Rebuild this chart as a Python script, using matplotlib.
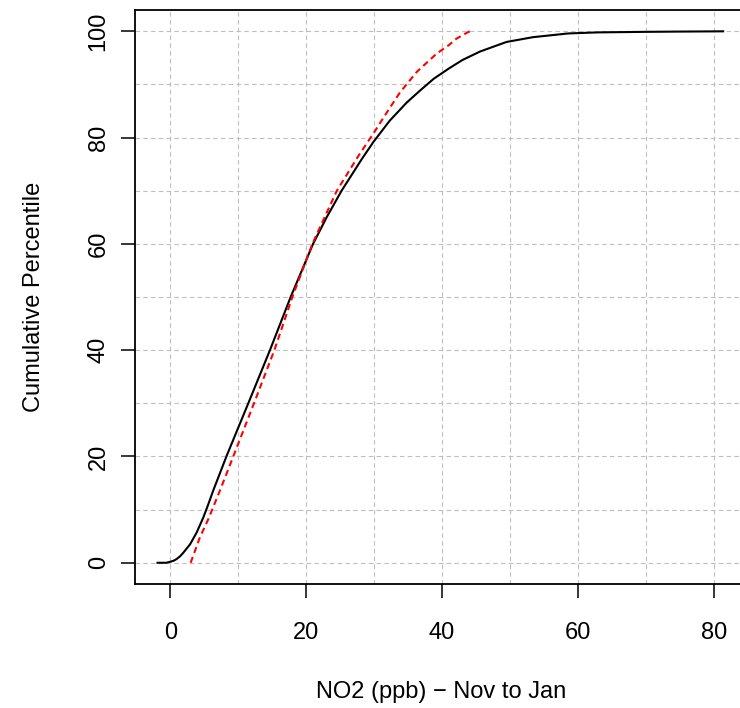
import numpy as np
import matplotlib.pyplot as plt

plt.rcParams['font.family'] = ['Liberation Sans', 'DejaVu Sans']

# observed cumulative distribution (black)
obs_x = [-1.9, -0.6, 0.0, 0.5, 0.9, 1.4, 1.9, 2.9, 3.86, 4.83, 5.57, 6.3,
         8.3, 11.46, 14.65, 17.7, 21.0, 23.0, 25.2, 28.2, 29.9, 32.3, 34.8,
         36.8, 38.8, 41.0, 43.0, 45.6, 49.5, 53.4, 58.6, 63.0, 70.0, 75.0,
         81.4]
obs_pct = [0, 0, 0.2, 0.4, 0.7, 1.2, 1.9, 3.5, 5.7, 8.5, 11.0, 13.6,
           20.2, 30, 40, 50, 60, 65.0, 70, 76.0, 79.2, 83.2, 86.6,
           88.9, 91.1, 93.0, 94.6, 96.2, 98.0, 98.9, 99.6, 99.8, 99.9, 99.95,
           100]

# second distribution (red dashed)
alt_x = [2.97, 4.34, 5.57, 7.29, 9.25, 12.3, 15.3, 17.95, 20.9, 24.5, 27.7,
         29.9, 31.8, 33.8, 36.3, 39.2, 41.0, 42.1, 43.9, 44.2]
alt_pct = [0, 4.8, 8.2, 13.6, 20, 30, 40, 50, 60, 70, 76.6,
           80.8, 84.6, 88.5, 92.4, 95.8, 97.4, 98.6, 99.9, 100]

x_major = [0, 20, 40, 60, 80]
y_major = [0, 20, 40, 60, 80, 100]
x_grid = np.arange(0, 81, 10)
y_grid = np.arange(0, 101, 10)

fig = plt.figure(figsize=(7.4, 7.08), dpi=100)
ax = fig.add_axes([0.182, 0.1751, 0.8269, 0.8107])

ax.plot(obs_x, obs_pct, color='black', lw=1.5, zorder=3,
        solid_joinstyle='round')
ax.plot(alt_x, alt_pct, color='red', lw=1.5, linestyle=(0, (3, 2)), zorder=3)

ax.set_xlim(-5.27, 84.85)
ax.set_ylim(-4, 104)

ax.set_xticks(x_major)
ax.set_yticks(y_major)
ax.set_xticks(x_grid, minor=True)
ax.set_yticks(y_grid, minor=True)
ax.grid(which='both', color='#bebebe', lw=0.8, linestyle=(0, (4, 3)), zorder=0)
ax.set_axisbelow(True)

ax.tick_params(which='major', direction='out', length=10, width=1.1,
               labelsize=17, pad=17)
ax.tick_params(axis='y', which='major', pad=8)
ax.tick_params(which='minor', length=0)
for lab in ax.get_yticklabels():
    lab.set_rotation(90)
    lab.set_va('center')

for s in ax.spines.values():
    s.set_linewidth(1.3)

ax.set_xlabel('NO2 (ppb) \u2212 Nov to Jan', fontsize=17, va='center')
ax.set_ylabel('Cumulative Percentile', fontsize=17, va='center')
ax.xaxis.set_label_coords(0.5, -0.188)
ax.yaxis.set_label_coords(-0.1650, 0.5)

fig.savefig('out.png', dpi=100)
